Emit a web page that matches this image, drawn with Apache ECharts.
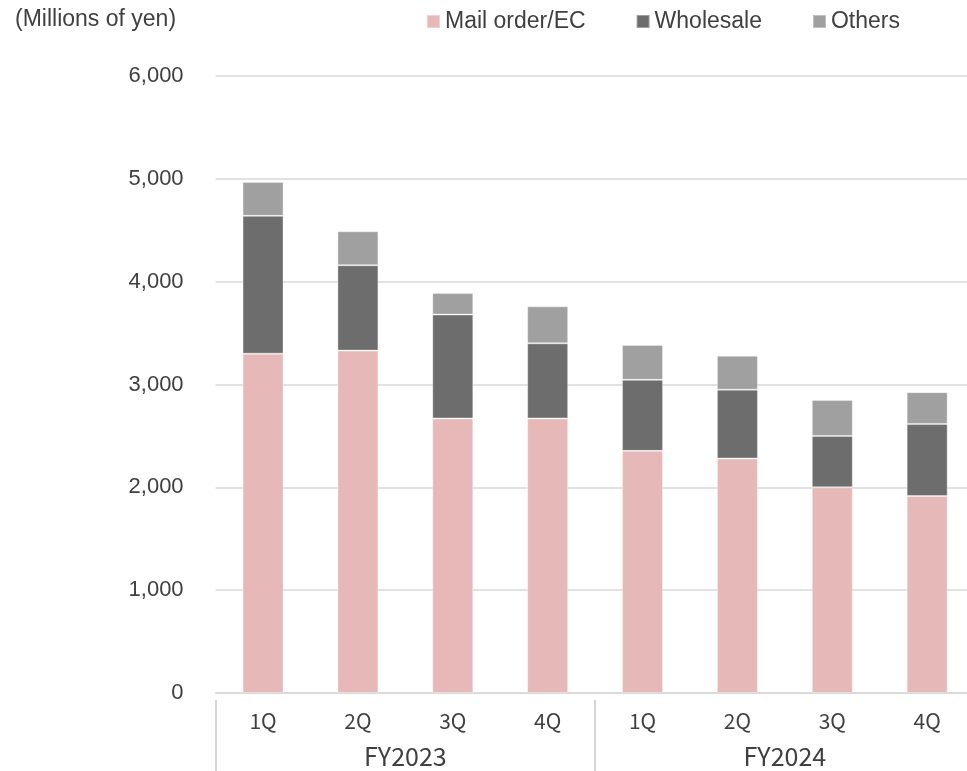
<!DOCTYPE html>
<html>
<head>
<meta charset="utf-8">
<script src="https://cdn.jsdelivr.net/npm/echarts@6/dist/echarts.min.js"></script>
<style>
  html, body { margin: 0; padding: 0; background: #fff; }
  #chart { width: 967px; height: 771px; }
</style>
</head>
<body>
<div id="chart"></div>
<script>
// quarters and fiscal years (two-level category axis)
var quarters = ['1Q', '2Q', '3Q', '4Q', '1Q', '2Q', '3Q', '4Q']
var fiscalYears = ['FY2023', 'FY2024']

// sales by channel, millions of yen
var mailOrderEC = [3300, 3330, 2670, 2670, 2355, 2280, 2000, 1915]
var wholesale = [1340, 830, 1010, 730, 690, 670, 500, 700]
var others = [330, 330, 210, 360, 340, 330, 350, 310]

var yTicks = { min: 0, max: 6000, interval: 1000 }

var latinFont = 'Liberation Sans'
var gothicFont = 'Noto Sans CJK JP'
var textColor = '#404040'

var chart = echarts.init(document.getElementById('chart'))

function barSeries(name, data, color) {
  return {
    name: name,
    type: 'bar',
    stack: 'total',
    barWidth: 41,
    data: data,
    itemStyle: {
      color: color,
      borderColor: 'rgba(255,255,255,0.35)',
      borderWidth: 1
    },
    emphasis: { disabled: true }
  }
}

chart.setOption({
  animation: false,
  title: {
    text: '(Millions of yen)',
    left: 10,
    top: 3,
    textStyle: {
      fontFamily: latinFont,
      fontSize: 23,
      fontWeight: 'normal',
      color: textColor
    }
  },
  legend: {
    top: 5,
    left: 421,
    itemWidth: 13,
    itemHeight: 13,
    itemGap: 50,
    icon: 'rect',
    textStyle: {
      fontFamily: latinFont,
      fontSize: 23,
      color: textColor
    },
    data: ['Mail order/EC', 'Wholesale', 'Others']
  },
  // plot runs a little past the right edge, like the source
  grid: {
    left: 215.6,
    width: 759,
    top: 76,
    bottom: 78,
    outerBoundsMode: 'none',
    containLabel: false
  },
  xAxis: [{
    type: 'category',
    data: quarters,
    position: 'bottom',
    axisLine: { lineStyle: { color: '#d9d9d9', width: 1.5 } },
    axisTick: { show: false },
    axisLabel: {
      margin: 18,
      fontFamily: gothicFont,
      fontSize: 21,
      color: textColor
    }
  }, {
    type: 'category',
    data: fiscalYears,
    position: 'bottom',
    offset: 7,
    axisLine: { show: false },
    axisTick: {
      show: true,
      length: 75,
      lineStyle: { color: '#c8c8c8', width: 1.5 }
    },
    axisLabel: {
      margin: 44,
      fontFamily: gothicFont,
      fontSize: 25,
      color: textColor
    }
  }],
  yAxis: {
    type: 'value',
    min: yTicks.min,
    max: yTicks.max,
    interval: yTicks.interval,
    axisLine: { show: false },
    axisTick: { show: false },
    splitLine: { lineStyle: { color: '#d9d9d9', width: 1.5 } },
    axisLabel: {
      margin: 32,
      padding: [4, 0, 0, 0],
      fontFamily: latinFont,
      fontSize: 22,
      color: textColor,
      formatter: function (v) { return v.toLocaleString('en-US') }
    }
  },
  series: [
    barSeries('Mail order/EC', mailOrderEC, '#e6b8b7'),
    barSeries('Wholesale', wholesale, '#6d6d6d'),
    barSeries('Others', others, '#a0a0a0')
  ]
})
</script>
</body>
</html>
